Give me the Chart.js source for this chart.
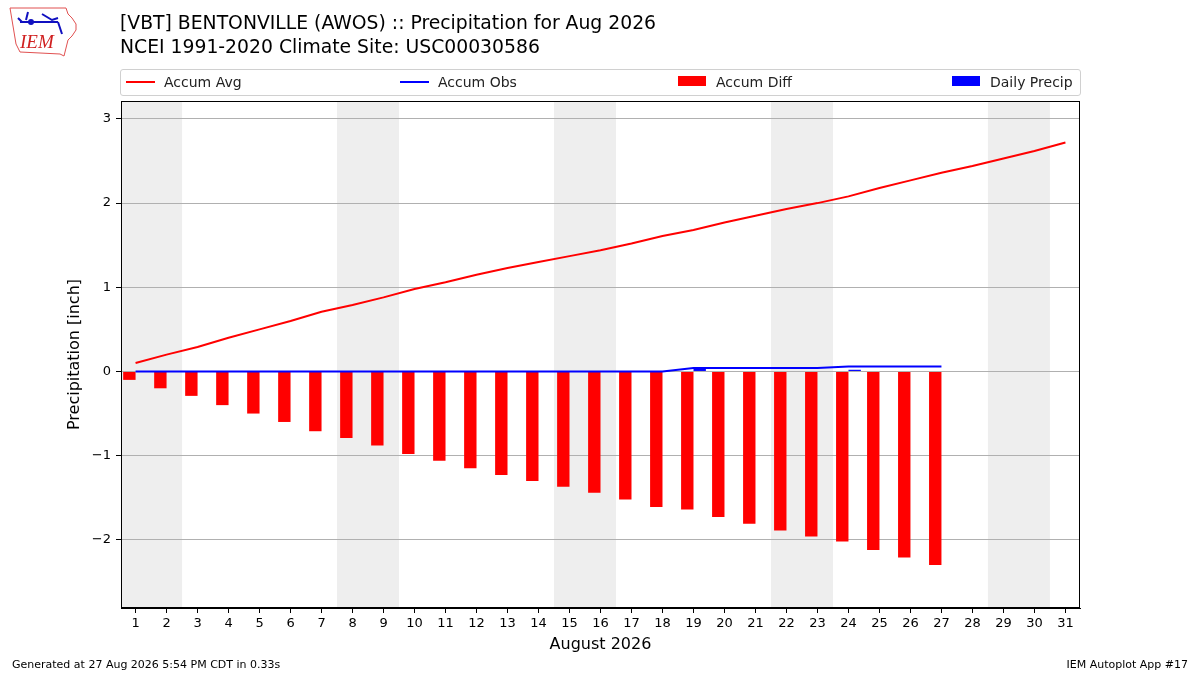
<!DOCTYPE html>
<html>
<head>
<meta charset="utf-8">
<script src="https://cdn.jsdelivr.net/npm/chart.js@4/dist/chart.umd.min.js"></script>
<style>
  body { margin: 0; background: #fff; font-family: "DejaVu Sans", sans-serif; }
  #wrap { position: relative; width: 1200px; height: 675px; overflow: hidden; }
  #chart { position: absolute; left: 0; top: 0; }
  .txt { position: absolute; color: #000; white-space: nowrap; }
  #legend { position: absolute; left: 120px; top: 69px; width: 959px; height: 25px;
            border: 1px solid #d0d0d0; border-radius: 3px; background: #fff; }
  .item { position: absolute; top: 0; height: 25px; line-height: 25px; font-size: 14px; color: #222; }
  .sw { position: absolute; }
</style>
</head>
<body>
<div id="wrap">
  <canvas id="chart" width="1200" height="675"></canvas>
  <svg style="position:absolute;left:6px;top:4px" width="76" height="56" viewBox="0 0 76 56">
    <polygon points="4,4 60,4 62,10 66,14 70,20 70,26 66,32 62,36 60,44 58,52 54,50 14,48 10,40 8,28 6,16"
             fill="#fff" stroke="#e05050" stroke-width="1"/>
    <path d="M14,18 L52,18 M36,10 L46,16 L52,14 M52,18 L56,30 M22,8 L20,16 M12,14 L16,18" stroke="#1010c0" stroke-width="2" fill="none"/>
    <circle cx="25" cy="18" r="3" fill="#1010c0"/>
    <text x="14" y="44" font-family="Liberation Serif, serif" font-style="italic" font-size="19" fill="#d02020">IEM</text>
  </svg>
  <div class="txt" style="left:120px;top:12px;font-size:18.8px">[VBT] BENTONVILLE (AWOS) :: Precipitation for Aug 2026</div>
  <div class="txt" style="left:120px;top:36px;font-size:18.8px">NCEI 1991-2020 Climate Site: USC00030586</div>
  <div id="legend"></div>
  <div class="txt" style="left:12px;top:658px;font-size:11px">Generated at 27 Aug 2026 5:54 PM CDT in 0.33s</div>
  <div class="txt" style="right:12px;top:658px;font-size:11px">IEM Autoplot App #17</div>
</div>
<script>
const dayLabels = ['1', '2', '3', '4', '5', '6', '7', '8', '9', '10', '11', '12', '13', '14', '15', '16',
                   '17', '18', '19', '20', '21', '22', '23', '24', '25', '26', '27', '28', '29', '30', '31'];
const accumAvg = [0.10, 0.20, 0.29, 0.40, 0.50, 0.60, 0.71, 0.79, 0.88, 0.98, 1.06, 1.15, 1.23, 1.30, 1.37, 1.44,
                  1.52, 1.61, 1.68, 1.77, 1.85, 1.93, 2.00, 2.08, 2.18, 2.27, 2.36, 2.44, 2.53, 2.62, 2.72];
const accumObs = [0, 0, 0, 0, 0, 0, 0, 0, 0, 0, 0, 0, 0, 0, 0, 0, 0, 0,
                  0.04, 0.04, 0.04, 0.04, 0.04, 0.06, 0.06, 0.06, 0.06];
const accumDiff = [-0.10, -0.20, -0.29, -0.40, -0.50, -0.60, -0.71, -0.79, -0.88, -0.98, -1.06, -1.15, -1.23, -1.30,
                   -1.37, -1.44, -1.52, -1.61, -1.64, -1.73, -1.81, -1.89, -1.96, -2.02, -2.12, -2.21, -2.30];
const dailyPrecip = [0, 0, 0, 0, 0, 0, 0, 0, 0, 0, 0, 0, 0, 0, 0, 0, 0, 0,
                     0.04, 0, 0, 0, 0, 0.02, 0, 0, 0];
const weekendStarts = [1, 8, 15, 22, 29];
const yTicks = [-2, -1, 0, 1, 2, 3];

const seriesNames = ['Accum Avg', 'Accum Obs', 'Accum Diff', 'Daily Precip'];
const seriesColors = ['#ff0000', '#0000ff', '#ff0000', '#0000ff'];

// legend, matplotlib style expanded over the axes width
(function () {
    const lg = document.getElementById('legend');
    const lefts = [5, 279, 557, 831];
    seriesNames.forEach((name, i) => {
        const it = document.createElement('div');
        it.className = 'item';
        it.style.left = lefts[i] + 'px';
        const sw = document.createElement('div');
        sw.className = 'sw';
        if (i < 2) {
            sw.style.cssText = `left:0;top:11px;width:29px;height:2px;background:${seriesColors[i]}`;
        } else {
            sw.style.cssText = `left:0;top:6px;width:28px;height:10px;background:${seriesColors[i]}`;
        }
        it.appendChild(sw);
        const t = document.createElement('span');
        t.style.marginLeft = '38px';
        t.textContent = name;
        it.appendChild(t);
        lg.appendChild(it);
    });
})();

const pts = (arr, shift) => arr.map((v, i) => ({ x: Number(dayLabels[i]) + shift, y: v }));

const weekendPlugin = {
    id: 'weekends',
    beforeDraw(chart) {
        const { ctx, chartArea, scales } = chart;
        ctx.save();
        ctx.beginPath();
        ctx.rect(chartArea.left, chartArea.top, chartArea.width, chartArea.height);
        ctx.clip();
        ctx.fillStyle = '#eeeeee';
        weekendStarts.forEach(d => {
            const x0 = scales.x.getPixelForValue(d - 0.5);
            const x1 = scales.x.getPixelForValue(d + 1.5);
            ctx.fillRect(x0, chartArea.top, x1 - x0, chartArea.height);
        });
        ctx.restore();
    }
};

const framePlugin = {
    id: 'frame',
    afterDraw(chart) {
        const { ctx, chartArea } = chart;
        ctx.save();
        ctx.strokeStyle = '#000';
        ctx.lineWidth = 1;
        ctx.strokeRect(chartArea.left + 0.5, chartArea.top + 0.5, chartArea.width - 1, chartArea.height - 1);
        ctx.restore();
    }
};

const font13 = { family: 'DejaVu Sans', size: 13 };
const xMin = 0.53, xMax = 31.47;

new Chart(document.getElementById('chart').getContext('2d'), {
    type: 'bar',
    data: {
        datasets: [{
                type: 'line',
                label: seriesNames[0],
                data: pts(accumAvg, 0),
                borderColor: seriesColors[0],
                borderWidth: 2,
                pointRadius: 0,
                tension: 0,
                order: 0
            },
            {
                type: 'line',
                label: seriesNames[1],
                data: pts(accumObs, 0),
                borderColor: seriesColors[1],
                borderWidth: 2,
                pointRadius: 0,
                tension: 0,
                order: 0
            },
            {
                label: seriesNames[2],
                data: pts(accumDiff, -0.2),
                backgroundColor: seriesColors[2],
                borderWidth: 0,
                grouped: false,
                barPercentage: 0.4,
                categoryPercentage: 1,
                order: 1
            },
            {
                label: seriesNames[3],
                data: pts(dailyPrecip, 0.2),
                xAxisID: 'x2',
                backgroundColor: seriesColors[3],
                borderWidth: 0,
                grouped: false,
                barPercentage: 0.4,
                categoryPercentage: 1,
                order: 1
            }
        ]
    },
    options: {
        responsive: false,
        animation: false,
        layout: { padding: { left: 0, right: 120, top: 101, bottom: 0 } },
        plugins: { legend: { display: false }, title: { display: false }, tooltip: { enabled: false } },
        scales: {
            x: {
                type: 'linear',
                min: xMin,
                max: xMax,
                offset: false,
                afterFit: s => { s.height = 67; },
                afterBuildTicks: s => { s.ticks = dayLabels.map(d => ({ value: Number(d) })); },
                ticks: { font: font13, color: '#000', padding: 3, maxRotation: 0, autoSkip: false,
                         callback: v => String(v) },
                grid: { offset: false, drawOnChartArea: false, tickLength: 5, tickColor: '#000' },
                border: { color: '#000' },
                title: { display: true, text: 'August 2026', color: '#000',
                         font: { family: 'DejaVu Sans', size: 16 }, padding: { top: 0, bottom: 21 } }
            },
            x2: {
                type: 'linear',
                position: 'bottom',
                display: false,
                min: xMin,
                max: xMax,
                offset: false,
                afterBuildTicks: s => { s.ticks = dayLabels.map(d => ({ value: Number(d) })); },
                grid: { offset: false }
            },
            y: {
                min: -2.81,
                max: 3.213,
                afterFit: s => { s.width = 121; },
                afterBuildTicks: s => { s.ticks = yTicks.map(v => ({ value: v })); },
                ticks: { font: font13, color: '#000', padding: 5,
                         callback: v => v < 0 ? '\u2212' + Math.abs(v) : String(v) },
                grid: { color: '#b0b0b0', tickLength: 5, tickColor: '#000' },
                border: { color: '#000' },
                title: { display: true, text: 'Precipitation [inch]', color: '#000',
                         font: { family: 'DejaVu Sans', size: 16 }, padding: { top: 65, bottom: 0 } }
            }
        }
    },
    plugins: [weekendPlugin, framePlugin]
});
</script>
</body>
</html>
